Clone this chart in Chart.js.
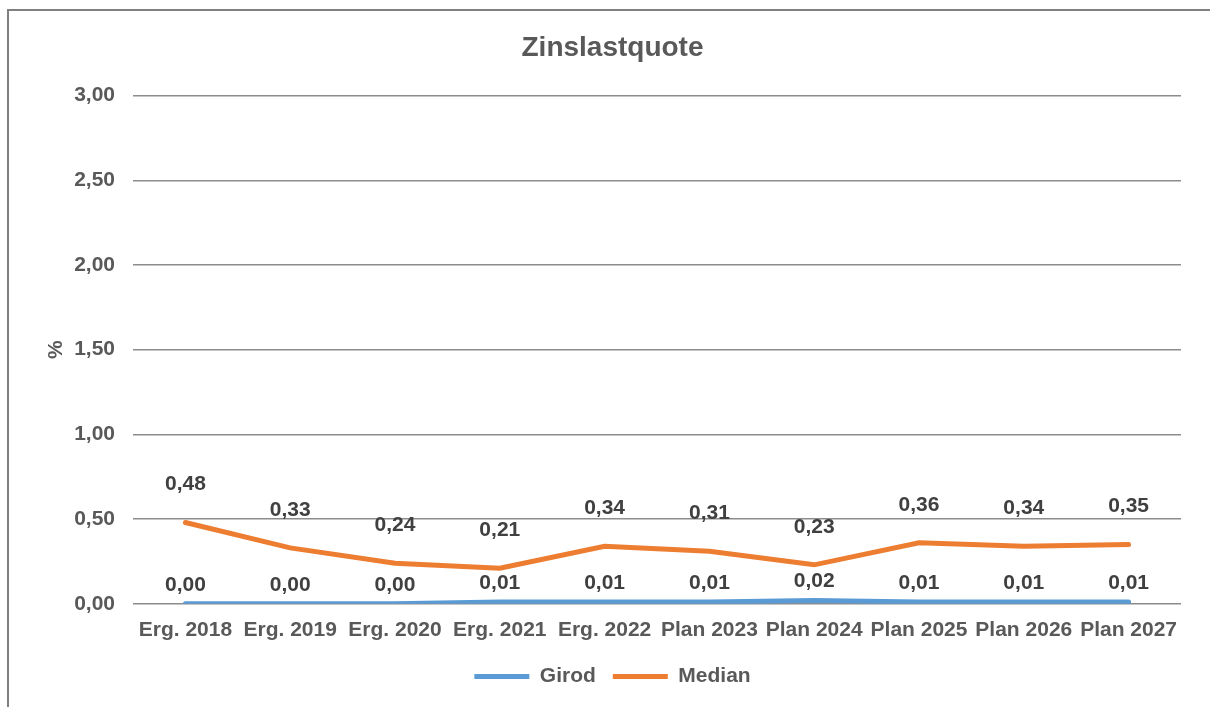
<!DOCTYPE html>
<html>
<head>
<meta charset="utf-8">
<title>Zinslastquote</title>
<script src="https://cdn.jsdelivr.net/npm/chart.js@4/dist/chart.umd.min.js"></script>
<style>
  body { margin: 0; background: #fff; }
  #wrap { position: relative; width: 1210px; height: 707px; }
  #frame {
    position: absolute; left: 7px; top: 9px; right: 0; bottom: 0;
    border-top: 2px solid #808080; border-left: 2px solid #808080;
    pointer-events: none;
  }
  canvas { position: absolute; left: 0; top: 0; }
</style>
</head>
<body>
<div id="wrap">
  <div id="frame"></div>
  <canvas id="myChart" width="1210" height="707"></canvas>
</div>
<script>
const categories = ["Erg. 2018", "Erg. 2019", "Erg. 2020", "Erg. 2021", "Erg. 2022",
  "Plan 2023", "Plan 2024", "Plan 2025", "Plan 2026", "Plan 2027"];
const girod = [0.00, 0.00, 0.00, 0.01, 0.01, 0.01, 0.02, 0.01, 0.01, 0.01];
const median = [0.48, 0.33, 0.24, 0.21, 0.34, 0.31, 0.23, 0.36, 0.34, 0.35];
const yTicks = [0, 0.5, 1, 1.5, 2, 2.5, 3];

const FONT = "'Liberation Sans', Arial, sans-serif";
const fmt = v => Number(v).toFixed(2).replace(".", ",");

// draws the value above each point
const valueLabels = {
  id: "valueLabels",
  afterDatasetsDraw(chart) {
    let ctx = chart.ctx;
    ctx.save();
    ctx.font = "bold 21px " + FONT;
    ctx.fillStyle = "#404040";
    ctx.textAlign = "center";
    ctx.textBaseline = "middle";
    chart.data.datasets.forEach((ds, i) => {
      let meta = chart.getDatasetMeta(i);
      let lift = ds.labelLift || 20;
      meta.data.forEach((pt, j) => {
        ctx.fillText(fmt(ds.data[j]), pt.x, pt.y - lift);
      });
    });
    ctx.restore();
  }
};

let ctx = document.getElementById("myChart").getContext("2d");

let myChart = new Chart(ctx, {
  type: "line",
  data: {
    labels: categories,
    datasets: [
      {
        label: "Girod",
        data: girod,
        borderColor: "#5B9BD5",
        backgroundColor: "#5B9BD5",
        borderWidth: 5,
        borderCapStyle: "round",
        pointRadius: 0,
        tension: 0,
        labelLift: 19
      },
      {
        label: "Median",
        data: median,
        borderColor: "#ED7D31",
        backgroundColor: "#ED7D31",
        borderWidth: 5,
        borderCapStyle: "round",
        pointRadius: 0,
        tension: 0,
        labelLift: 38
      }
    ]
  },
  options: {
    responsive: false,
    animation: false,
    layout: { padding: { top: 31, left: 44, right: 29, bottom: 10 } },
    plugins: {
      title: {
        display: true,
        text: "Zinslastquote",
        color: "#595959",
        font: { family: FONT, size: 28, weight: "bold" },
        padding: { top: 0, bottom: 31 }
      },
      legend: {
        position: "bottom",
        labels: {
          usePointStyle: true,
          pointStyle: "line",
          pointStyleWidth: 55,
          color: "#595959",
          font: { family: FONT, size: 21, weight: "bold" },
          padding: 17
        }
      },
      tooltip: { enabled: false }
    },
    scales: {
      x: {
        offset: true,
        grid: { display: false },
        border: { display: false },
        ticks: {
          color: "#595959",
          font: { family: FONT, size: 21, weight: "bold" },
          padding: 6,
          maxRotation: 0,
          autoSkip: false
        }
      },
      y: {
        min: 0,
        max: 3,
        afterFit(scale) { scale.width = 89; },
        afterBuildTicks(scale) { scale.ticks = yTicks.map(v => ({ value: v })); },
        grid: { color: "#8c8c8c", lineWidth: 1.4, drawTicks: false },
        border: { display: false },
        title: {
          display: true,
          text: "%",
          color: "#595959",
          font: { family: FONT, size: 21, weight: "bold" },
          padding: 0
        },
        ticks: {
          color: "#595959",
          font: { family: FONT, size: 21, weight: "bold" },
          padding: 18,
          callback: v => fmt(v)
        }
      }
    }
  },
  plugins: [valueLabels]
});
</script>
</body>
</html>
